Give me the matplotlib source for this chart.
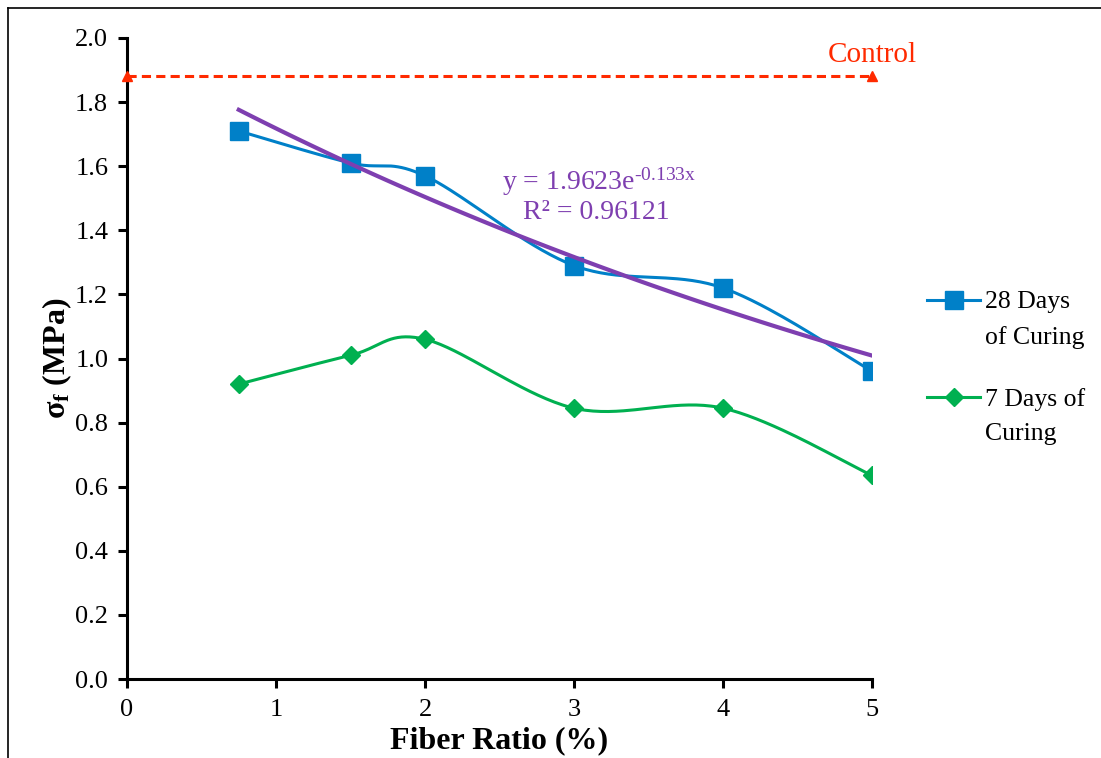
import numpy as np
import matplotlib
matplotlib.use("Agg")
import matplotlib.pyplot as plt
from matplotlib.lines import Line2D

plt.rcParams['font.family'] = ['Liberation Serif', 'DejaVu Serif']
plt.rcParams['mathtext.fontset'] = 'custom'
plt.rcParams['mathtext.rm'] = 'Liberation Serif'
plt.rcParams['mathtext.it'] = 'Liberation Serif:italic'
plt.rcParams['mathtext.bf'] = 'Liberation Serif:bold'

# data
fiber_ratio = [0.75, 1.5, 2.0, 3.0, 4.0, 5.0]
days28 = [1.71, 1.61, 1.57, 1.29, 1.22, 0.96]
days7 = [0.92, 1.01, 1.06, 0.845, 0.845, 0.635]
control_x = [0, 5]
control_y = [1.88, 1.88]
fit_a, fit_b = 1.9623, -0.133
fit_r2 = 0.96121
x_ticks = [0, 1, 2, 3, 4, 5]
y_ticks = [0.0, 0.2, 0.4, 0.6, 0.8, 1.0, 1.2, 1.4, 1.6, 1.8, 2.0]

BLUE = '#0080C8'
GREEN = '#00B050'
PURPLE = '#7E3FB0'
RED = '#FF2A00'


def excel_smooth(ax, xs, ys, n=40):
    # bezier through points, control points like Excel's smoothed line
    pts = ax.transData.transform(np.column_stack([xs, ys]))
    p = np.vstack([pts[0], pts, pts[-1]])
    out = []
    t = np.linspace(0, 1, n)[:, None]
    for i in range(1, len(p) - 2):
        p0, p3 = p[i], p[i + 1]
        c1 = p0 + (p[i + 1] - p[i - 1]) / 6
        c2 = p3 - (p[i + 2] - p[i]) / 6
        seg = ((1 - t) ** 3) * p0 + 3 * ((1 - t) ** 2) * t * c1 + 3 * (1 - t) * t ** 2 * c2 + t ** 3 * p3
        out.append(seg)
    curve = ax.transData.inverted().transform(np.vstack(out))
    return curve[:, 0], curve[:, 1]


fig = plt.figure(figsize=(11.01, 7.58), dpi=100)
ax = fig.add_axes([127 / 1101, 1 - 679 / 758, 745 / 1101, 641 / 758])
ax.set_xlim(0, 5)
ax.set_ylim(0, 2.0)

for s in ['top', 'right']:
    ax.spines[s].set_visible(False)
for s in ['left', 'bottom']:
    ax.spines[s].set_linewidth(2.2)
ax.set_xticks(x_ticks)
ax.set_yticks(y_ticks)
ax.set_yticklabels([f'{v:.1f}' for v in y_ticks])
ax.tick_params(axis='both', direction='out', length=6.5, width=2.2, labelsize=19)
ax.tick_params(axis='x', pad=8)
ax.tick_params(axis='y', pad=7)

fig.canvas.draw()

# control line
ax.plot(control_x, control_y, color=RED, lw=2.2, dashes=(3, 1.7), marker='^',
        markersize=7, clip_on=False, zorder=3)
ax.text(5, 1.947, 'Control', color=RED, fontsize=21, ha='center', va='center')

# series
sx, sy = excel_smooth(ax, fiber_ratio, days28)
ax.plot(sx, sy, color=BLUE, lw=2.2, zorder=3)
ax.plot(fiber_ratio, days28, ls='none', marker='s', markersize=12.5, color=BLUE, zorder=4)

gx, gy = excel_smooth(ax, fiber_ratio, days7)
ax.plot(gx, gy, color=GREEN, lw=2.2, zorder=3)
ax.plot(fiber_ratio, days7, ls='none', marker='D', markersize=9.5, color=GREEN, zorder=4)

# exponential trendline
tx = np.linspace(fiber_ratio[0], fiber_ratio[-1], 100)
ax.plot(tx, fit_a * np.exp(fit_b * tx), color=PURPLE, lw=3, zorder=5)
ax.text(3.17, 1.553, 'y = %.4fe$^{\\mathrm{\u2010%.3fx}}$' % (fit_a, abs(fit_b)),
        color=PURPLE, fontsize=20, ha='center', va='center')
ax.text(3.15, 1.455, 'R² = %.5f' % fit_r2, color=PURPLE, fontsize=20,
        ha='center', va='center')

ax.set_xlabel('Fiber Ratio (%)', fontsize=23, fontweight='bold', labelpad=4)
ax.set_ylabel(r'σ$_{\mathbf{f}}$ (MPa)', fontsize=23, fontweight='bold', labelpad=1)

# legend drawn by hand so the handle sits on the first line
legend_items = [('28 Days\nof Curing', BLUE, 's', 12.5, 0.591),
                ('7 Days of\nCuring', GREEN, 'D', 9.5, 0.440)]
for label, col, mk, ms, yy in legend_items:
    ax.add_line(Line2D([1.074, 1.145], [yy, yy], color=col, lw=2.2,
                       transform=ax.transAxes, clip_on=False))
    ax.add_line(Line2D([1.1095], [yy], color=col, marker=mk, markersize=ms,
                       transform=ax.transAxes, clip_on=False))
    ax.text(1.152, yy + 0.014, label, transform=ax.transAxes, fontsize=18.5,
            ha='left', va='top', linespacing=1.7)

# page frame
fig.add_artist(Line2D([8 / 1101, 8 / 1101], [0, 1 - 8 / 758], color='black', lw=1.2))
fig.add_artist(Line2D([8 / 1101, 1], [1 - 8 / 758, 1 - 8 / 758], color='black', lw=1.2))

fig.savefig('out.png', dpi=100)
